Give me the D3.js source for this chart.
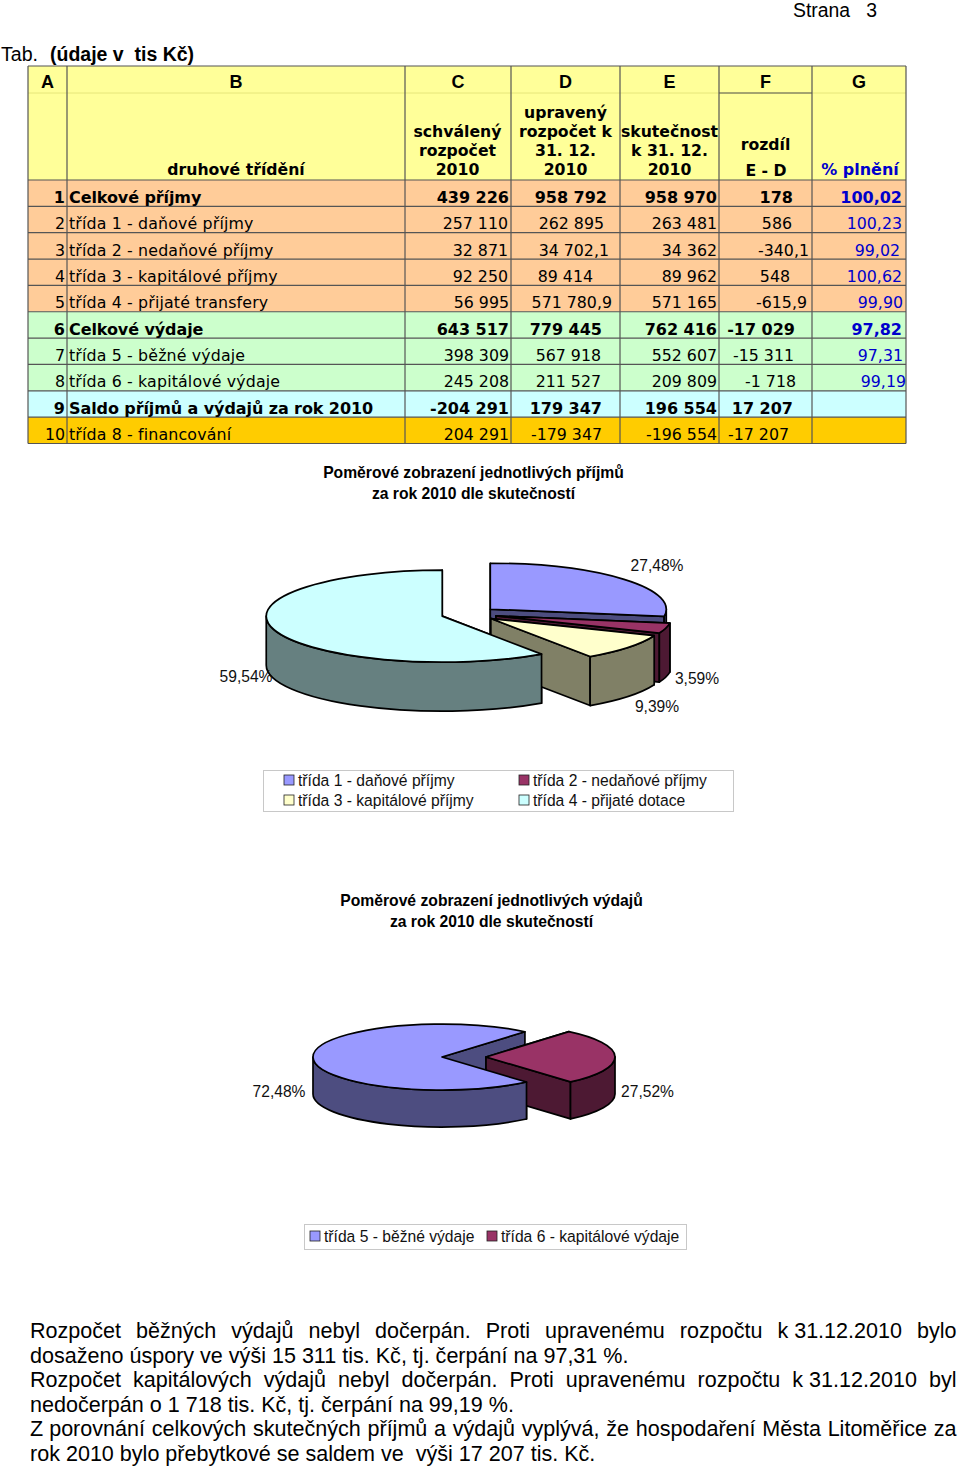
<!DOCTYPE html>
<html lang="cs"><head><meta charset="utf-8">
<style>html,body{margin:0;padding:0;background:#fff}svg{display:block}</style>
<script src="https://cdnjs.cloudflare.com/ajax/libs/d3/7.8.5/d3.min.js"></script>
</head><body><svg id="c" width="960" height="1466"></svg>
<script>
// ---- data ----
const columnLetters = ["A","B","C","D","E","F","G"];
const rowLabels = ["Celkové příjmy","třída 1 - daňové příjmy","třída 2 - nedaňové příjmy","třída 3 - kapitálové příjmy","třída 4 - přijaté transfery","Celkové výdaje","třída 5 - běžné výdaje","třída 6 - kapitálové výdaje","Saldo příjmů a výdajů za rok 2010","třída 8 - financování"];
const colC = ["439 226","257 110","32 871","92 250","56 995","643 517","398 309","245 208","-204 291","204 291"];
const colD = ["958 792","262 895","34 702,1","89 414","571 780,9","779 445","567 918","211 527","179 347","-179 347"];
const colE = ["958 970","263 481","34 362","89 962","571 165","762 416","552 607","209 809","196 554","-196 554"];
const colF = ["178","586","-340,1","548","-615,9","-17 029","-15 311","-1 718","17 207","-17 207"];
const colG = ["100,02","100,23","99,02","100,62","99,90","97,82","97,31","99,19","",""];
const boldRows = [0,5,8];
const incomeLabels = ["třída 1 - daňové příjmy","třída 2 - nedaňové příjmy","třída 3 - kapitálové příjmy","třída 4 - přijaté dotace"];
const incomeShares = [27.48,3.59,9.39,59.54];
const incomeText = ["27,48%","3,59%","9,39%","59,54%"];
const expenseLabels = ["třída 5 - běžné výdaje","třída 6 - kapitálové výdaje"];
const expenseShares = [27.52,72.48];
const expenseText = ["27,52%","72,48%"];
const paragraph = [
 ["Rozpočet běžných výdajů nebyl dočerpán. Proti upravenému rozpočtu k\u00a031.12.2010 bylo",true],
 ["dosaženo úspory ve výši 15 311 tis. Kč, tj. čerpání na 97,31 %.",false],
 ["Rozpočet kapitálových výdajů nebyl dočerpán. Proti upravenému rozpočtu k\u00a031.12.2010 byl",true],
 ["nedočerpán o 1 718 tis. Kč, tj. čerpání na 99,19 %.",false],
 ["Z\u00a0porovnání celkových skutečných příjmů a výdajů vyplývá, že hospodaření Města Litoměřice za",true],
 ["rok 2010 bylo přebytkové se saldem ve  výši 17 207 tis. Kč.",false]];

// ---- layout ----
const svg = d3.select("#c");
const ARIAL = "'Liberation Sans',Arial,sans-serif", VERD = "'DejaVu Sans',Verdana,sans-serif";
const txt = (g,s,x,y,o={}) => g.append("text").attr("x",x).attr("y",y).text(s)
  .attr("font-family",o.f||VERD).attr("font-size",o.s||(o.b?16:15.8)).attr("font-weight",o.b?"bold":"normal")
  .attr("text-anchor",o.a||"start").attr("fill",o.c||"#000").attr("letter-spacing",o.ls||0).style("white-space","pre");
const edges = [28,67,405,511,620,719,812,906];
const rowY = d3.scaleLinear().domain([0,10]).range([180,443.5]);
const rowFill = i => i<5?"#FFCC99":i<8?"#CCFFCC":i==8?"#CCFFFF":"#FFCC00";
const T = svg.append("g");
T.append("rect").attr("x",28).attr("y",66).attr("width",878).attr("height",114).attr("fill","#FFFF99");
d3.range(10).forEach(i=>T.append("rect").attr("x",28).attr("y",rowY(i)).attr("width",878).attr("height",rowY(1)-rowY(0)).attr("fill",rowFill(i)));
T.append("line").attr("x1",28).attr("x2",906).attr("y1",93).attr("y2",93).attr("stroke","#E6E67A").attr("stroke-width",1);
const LINE="#555";
d3.range(11).forEach(i=>T.append("line").attr("x1",28).attr("x2",906).attr("y1",rowY(i)).attr("y2",rowY(i)).attr("stroke",LINE).attr("stroke-width",1.2));
T.append("line").attr("x1",28).attr("x2",906).attr("y1",66).attr("y2",66).attr("stroke",LINE).attr("stroke-width",1.2);
T.append("line").attr("x1",719).attr("x2",812).attr("y1",93).attr("y2",93).attr("stroke",LINE).attr("stroke-width",1);
edges.forEach(x=>T.append("line").attr("x1",x).attr("x2",x).attr("y1",66).attr("y2",443.5).attr("stroke",LINE).attr("stroke-width",1.2));
columnLetters.forEach((l,i)=>txt(T,l,(edges[i]+edges[i+1])/2,88,{f:ARIAL,s:18,b:1,a:"middle"}));
const hb={b:1,a:"middle",s:15.7};
txt(T,"druhové třídění",236,175,hb);
[["schválený",137],["rozpočet",156],["2010",175]].forEach(d=>txt(T,d[0],457.5,d[1],hb));
[["upravený",118],["rozpočet k",137],["31. 12.",156],["2010",175]].forEach(d=>txt(T,d[0],565.5,d[1],hb));
[["skutečnost",137],["k 31. 12.",156],["2010",175]].forEach(d=>txt(T,d[0],669.5,d[1],hb));
txt(T,"rozdíl",765.5,150,hb); txt(T,"E - D",766,176,hb);
txt(T,"% plnění",860,175,{b:1,a:"middle",s:16,c:"#0000CC"});
const endC=[509,508,508,508,509,509,509,509,509,509];
const endD=[607,604,609,593,612,602,601,601,602,602];
const endE=[717,717,717,717,717,717,717,717,717,717];
const endF=[793,792,809,790,807,795,794,796,793,789];
const endG=[902,902,900,902,903,902,903,906,906,906];
rowLabels.forEach((lab,i)=>{
  const y=rowY(i)+23, b=boldRows.includes(i);
  txt(T,String(i+1),65,y,{b,a:"end"});
  txt(T,lab,69,y,{b,ls:b?-.09:.15});
  txt(T,colC[i],endC[i],y,{b,a:"end"});
  txt(T,colD[i],endD[i],y,{b,a:"end"});
  txt(T,colE[i],endE[i],y,{b,a:"end"});
  txt(T,colF[i],endF[i],y,{b,a:"end"});
  if(colG[i]) txt(T,colG[i],endG[i],y,{b,a:"end",c:"#0000CC"});
});
txt(svg,"Strana   3",793,17,{f:ARIAL,s:19.4});
txt(svg,"Tab.",1,61,{f:ARIAL,s:19.6});
txt(svg,"(údaje v  tis Kč)",50,61,{f:ARIAL,s:19.5,b:1});

// ---- 3D pies ----
function pie3d(o){
  const g=svg.append("g");
  const slices=d3.pie().sort(null).startAngle(o.start).endAngle(o.start+2*Math.PI)(o.values);
  const k=o.ry/o.rx, d=o.depth;
  const pt=(a,c)=>[c[0]+o.rx*Math.sin(a), c[1]-o.ry*Math.cos(a)];
  const centre=s=>{const m=(s.startAngle+s.endAngle)/2;
    return [o.cx+o.explode*Math.sin(m), o.cy-o.explode*k*Math.cos(m)];};
  const style=p=>p.attr("stroke","#000").attr("stroke-width",1.7).attr("stroke-linejoin","round");
  const radial=(s,i)=>{const c=centre(s);
    [s.startAngle,s.endAngle].forEach(a=>{const p=pt(a,c);
      style(g.append("path").attr("d",`M${c[0]},${c[1]}L${p[0]},${p[1]}L${p[0]},${p[1]+d}L${c[0]},${c[1]+d}Z`).attr("fill",o.side[i]));});};
  const last=o.order[o.order.length-1];
  radial(slices[last],last);
  o.order.forEach(i=>{
    const s=slices[i],c=centre(s);
    if(i!==last) radial(s,i);
    const a0=Math.max(s.startAngle,Math.PI/2),a1=Math.min(s.endAngle,Math.PI*1.5);
    if(a1>a0){const p0=pt(a0,c),p1=pt(a1,c);
      style(g.append("path").attr("d",`M${p0[0]},${p0[1]}A${o.rx},${o.ry} 0 0 1 ${p1[0]},${p1[1]}L${p1[0]},${p1[1]+d}A${o.rx},${o.ry} 0 0 0 ${p0[0]},${p0[1]+d}Z`).attr("fill",o.side[i]));}
    style(g.append("path").attr("transform",`translate(${c[0]},${c[1]}) scale(1,${k})`)
      .attr("d",d3.arc().innerRadius(0).outerRadius(o.rx)(s)).attr("fill",o.top[i])
      .attr("vector-effect","non-scaling-stroke"));
  });
  o.text.forEach((t,i)=>txt(g,t,o.labelPos[i][0],o.labelPos[i][1],{f:ARIAL,s:15.6,a:"middle",c:"#111"}));
}
const topC=["#9999FF","#993366","#FFFFCC","#CCFFFF"], sideC=["#4D4D80","#4D1933","#808066","#668080"];
pie3d({values:incomeShares,text:incomeText,start:0,cx:469,cy:614,rx:176,ry:46,depth:49,explode:28,order:[0,1,2,3],top:topC,side:sideC,
  labelPos:[[657,571],[697,684],[657,712],[246,682]]});
pie3d({values:expenseShares,text:expenseText,start:40*Math.PI/180,cx:464,cy:1057,rx:129,ry:33,depth:37,explode:22,order:[0,1],
  top:[topC[1],topC[0]],side:[sideC[1],sideC[0]],labelPos:[[647.5,1097],[279,1097]]});

// ---- titles ----
const tt={f:ARIAL,s:15.7,b:1,a:"middle"};
txt(svg,"Poměrové zobrazení jednotlivých příjmů",473.5,478,tt);
txt(svg,"za rok 2010 dle skutečností",473.5,499,tt);
txt(svg,"Poměrové zobrazení jednotlivých výdajů",491.5,906,tt);
txt(svg,"za rok 2010 dle skutečností",491.5,927,tt);

// ---- legends ----
function legend(box,items){
  svg.append("rect").attr("x",box[0]+.5).attr("y",box[1]+.5).attr("width",box[2]).attr("height",box[3]).attr("fill","#fff").attr("stroke","#C8C8C8");
  items.forEach(it=>{
    svg.append("rect").attr("x",it.x).attr("y",it.y-11).attr("width",10).attr("height",10).attr("fill",it.c).attr("stroke","#222").attr("stroke-width",.8);
    txt(svg,it.t,it.x+14,it.y,{f:ARIAL,s:15.65,c:"#111"});
  });
}
legend([263,770,470,41],[
 {t:incomeLabels[0],x:284,y:786,c:topC[0]},{t:incomeLabels[1],x:519,y:786,c:topC[1]},
 {t:incomeLabels[2],x:284,y:806,c:topC[2]},{t:incomeLabels[3],x:519,y:806,c:topC[3]}]);
legend([304,1224,382,25],[
 {t:expenseLabels[0],x:310,y:1242,c:topC[0]},{t:expenseLabels[1],x:487,y:1242,c:topC[1]}]);

// ---- justified paragraph ----
const paraY=d3.scaleLinear().domain([0,5]).range([1338,1461]);
const paraFont={f:ARIAL,s:21.55};
paragraph.forEach((p,i)=>{
  if(!p[1]){ txt(svg,p[0],30,paraY(i),paraFont); return; }
  const words=p[0].split(" ");
  const nodes=words.map(w=>txt(svg,w,30,paraY(i),paraFont));
  const widths=nodes.map(n=>n.node().getComputedTextLength());
  const gap=(926.5-d3.sum(widths))/(words.length-1);
  let x=30;
  nodes.forEach((n,j)=>{n.attr("x",x); x+=widths[j]+gap;});
});
</script>
</body></html>
